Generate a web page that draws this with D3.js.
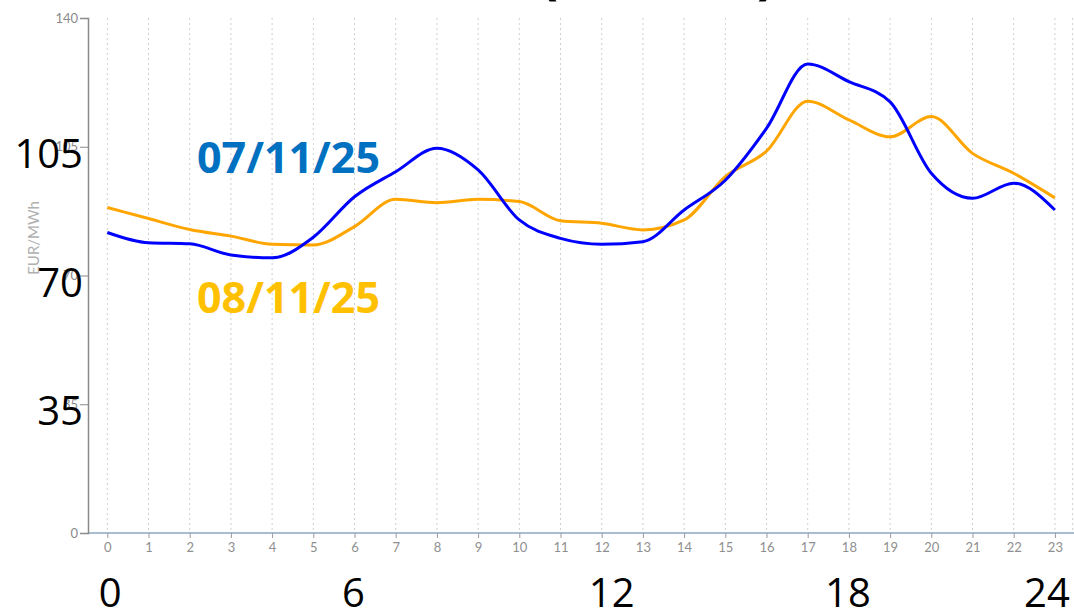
<!DOCTYPE html>
<html>
<head>
<meta charset="utf-8">
<script src="https://cdn.jsdelivr.net/npm/d3@7"></script>
<style>
  html, body { margin: 0; padding: 0; background: #fff; }
  svg { display: block; }
</style>
</head>
<body>
<svg id="chart" width="1074" height="610"></svg>
<script>
// ---- data ----
const hours = d3.range(0, 24);
const series0711 = [81.7, 78.9, 78.6, 75.6, 74.8, 80.4, 91.4, 98.2, 104.6, 98.7, 85.1, 80.1,
                    78.5, 79.2, 87.8, 95.9, 110.0, 127.5, 122.7, 117.2, 97.8, 91.0, 95.1, 87.8];
const series0811 = [88.5, 85.5, 82.5, 80.7, 78.5, 78.3, 83.3, 90.7, 89.8, 90.7, 90.1, 84.9,
                    84.2, 82.4, 85.1, 96.9, 103.8, 117.4, 112.3, 107.7, 113.2, 103.2, 97.8, 91.1];
const yTicks = [0, 35, 70, 105, 140];
const bigYLabels = ["105", "70", "35"];
const bigYValues = [105, 70, 35];
const bigXLabels = ["0", "6", "12", "18", "24"];
const bigXHours = [0, 6, 12, 18, 23];
const seriesNames = ["07/11/25", "08/11/25"];
const titleText = "Precio mercado diario (€/MWh)";
const yAxisTitle = "EUR/MWh";

// ---- layout ----
const svg = d3.select("#chart");
const x = d3.scaleLinear().domain([0, 23]).range([107.3, 1054.9]);
const y = d3.scaleLinear().domain([0, 140]).range([533, 18]);

// title (cut at top edge)
svg.append("text")
  .attr("x", 776).attr("y", -7)
  .attr("text-anchor", "end")
  .attr("font-family", "Open Sans, sans-serif")
  .attr("font-weight", "bold")
  .attr("font-size", 56)
  .attr("fill", "#000")
  .text(titleText);

// vertical dotted grid
const gridG = svg.append("g");
gridG.selectAll("line").data(hours.concat([23.43])).join("line")
  .attr("x1", d => x(d)).attr("x2", d => x(d))
  .attr("y1", y(140)).attr("y2", y(0))
  .attr("stroke", "#cfcfcf").attr("stroke-width", 1)
  .attr("stroke-dasharray", "2,3");

// x axis
const xAxis = d3.axisBottom(x).tickValues(hours).tickSize(5).tickPadding(5).tickFormat(d3.format("d"));
const xg = svg.append("g").attr("transform", `translate(0,${y(0)})`).call(xAxis);
xg.select(".domain").remove();
xg.selectAll(".tick line").attr("stroke", "#9a9a9a");
xg.selectAll(".tick text").attr("fill", "#8f8f8f")
  .attr("font-family", "Lato, Open Sans, sans-serif").attr("font-size", 13);
svg.append("line")
  .attr("x1", 88).attr("x2", 1074)
  .attr("y1", y(0)).attr("y2", y(0))
  .attr("stroke", "#8ea6c2").attr("stroke-width", 1.5);

// y axis
const yAxis = d3.axisLeft(y).tickValues(yTicks).tickSize(8).tickPadding(2).tickFormat(d3.format("d"));
const yg = svg.append("g").attr("transform", "translate(88,0)").call(yAxis);
yg.select(".domain").attr("stroke", "#8a8a8a").attr("stroke-width", 1.5);
yg.selectAll(".tick line").attr("stroke", "#8a8a8a");
yg.selectAll(".tick text").attr("fill", "#8a8a8a")
  .attr("font-family", "Lato, Open Sans, sans-serif").attr("font-size", 13);

svg.append("text")
  .attr("transform", "translate(39,238) rotate(-90)")
  .attr("text-anchor", "middle")
  .attr("font-family", "Lato, Open Sans, sans-serif")
  .attr("font-size", 15)
  .attr("fill", "#b0b0b0")
  .text(yAxisTitle);

// lines
const line = d3.line().x((d, i) => x(hours[i])).y(d => y(d)).curve(d3.curveMonotoneX);
svg.append("path").datum(series0811)
  .attr("d", line).attr("fill", "none")
  .attr("stroke", "#FFA500").attr("stroke-width", 3);
svg.append("path").datum(series0711)
  .attr("d", line).attr("fill", "none")
  .attr("stroke", "#0000FF").attr("stroke-width", 3);

// overlay big labels
svg.append("g").selectAll("text").data(bigYLabels).join("text")
  .attr("x", 83).attr("y", (d, i) => y(bigYValues[i]) + 21)
  .attr("text-anchor", "end")
  .attr("font-family", "Open Sans, sans-serif")
  .attr("font-size", 40)
  .attr("fill", "#000")
  .text(d => d);

const bigXOffsets = [3, -1, 10, -1, -8];
svg.append("g").selectAll("text").data(bigXLabels).join("text")
  .attr("x", (d, i) => x(bigXHours[i]) + bigXOffsets[i])
  .attr("y", 607)
  .attr("text-anchor", "middle")
  .attr("font-family", "Open Sans, sans-serif")
  .attr("font-size", 40)
  .attr("fill", "#000")
  .text(d => d);

// series name labels
const nameColors = ["#0070C0", "#FFC000"];
const nameY = [173, 313];
svg.append("g").selectAll("text").data(seriesNames).join("text")
  .attr("x", 197).attr("y", (d, i) => nameY[i])
  .attr("font-family", "Open Sans, sans-serif")
  .attr("font-weight", "bold")
  .attr("font-size", 43)
  .attr("fill", (d, i) => nameColors[i])
  .text(d => d);
</script>
</body>
</html>
